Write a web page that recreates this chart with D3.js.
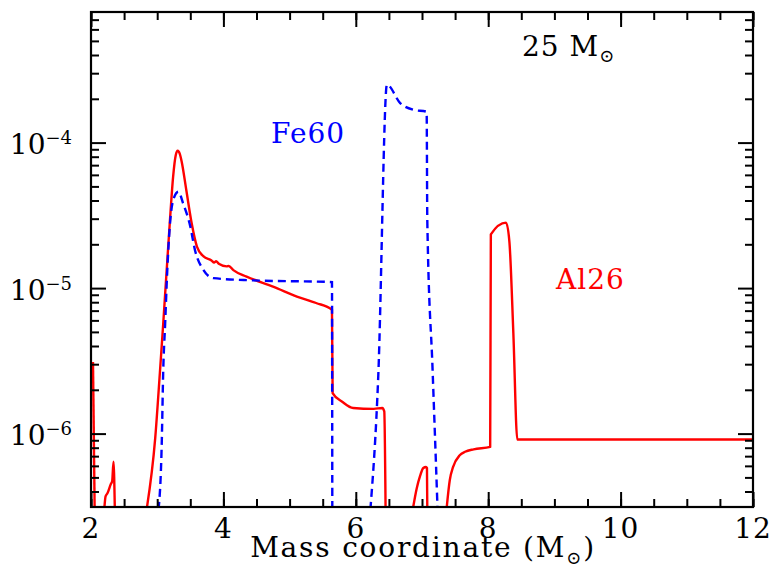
<!DOCTYPE html>
<html>
<head>
<meta charset="utf-8">
<script src="https://cdn.jsdelivr.net/npm/d3@7"></script>
<style>
  body { margin: 0; background: #fff; }
  text { font-family: "DejaVu Serif", serif; }
</style>
</head>
<body>
<svg id="chart" width="774" height="568"></svg>
<script>
// mass coordinate (Msun), abundance
var al26Pieces = [
  [[2.03, 3.1e-6], [2.055, 3e-7]],
  [[2.20, 3e-7], [2.22, 3.7e-7], [2.25, 3.9e-7], [2.30, 4.5e-7], [2.32, 4.7e-7], [2.34, 6.4e-7], [2.36, 3e-7]],
  [[2.84, 3e-7], [2.97, 9.3e-7], [3.04, 2.6e-6], [3.09, 5.6e-6], [3.14, 1.26e-5], [3.19, 2.8e-5],
   [3.24, 5.8e-5], [3.28, 8.2e-5], [3.31, 8.8e-5], [3.34, 8.4e-5], [3.37, 7.4e-5], [3.44, 4.7e-5],
   [3.52, 2.8e-5], [3.60, 1.93e-5], [3.70, 1.65e-5], [3.82, 1.55e-5], [3.86, 1.5e-5], [3.89, 1.53e-5],
   [3.93, 1.47e-5], [4.05, 1.41e-5], [4.08, 1.42e-5], [4.15, 1.33e-5], [4.35, 1.2e-5], [4.76, 1.02e-5],
   [5.11, 8.75e-6], [5.40, 7.9e-6], [5.64, 7.1e-6], [5.65, 1.9e-6], [5.80, 1.65e-6], [5.96, 1.5e-6],
   [6.27, 1.48e-6], [6.40, 1.5e-6], [6.43, 1.42e-6], [6.45, 3e-7]],
  [[6.86, 3e-7], [6.92, 4.2e-7], [6.97, 5.1e-7], [7.02, 5.8e-7], [7.06, 5.9e-7], [7.075, 5.8e-7], [7.08, 3e-7]],
  [[7.37, 3e-7], [7.42, 4.8e-7], [7.47, 5.9e-7], [7.57, 7.1e-7], [7.65, 7.5e-7], [7.78, 7.8e-7],
   [8.03, 8.1e-7], [8.04, 2.34e-5], [8.27, 2.82e-5], [8.32, 2.09e-5], [8.38, 4.9e-6], [8.44, 9.1e-7],
   [12, 9.1e-7]]
];

var fe60Pieces = [
  [[3.02, 3e-7], [3.07, 9.1e-7], [3.09, 2.6e-6], [3.12, 5.7e-6], [3.15, 1.26e-5], [3.19, 2.65e-5],
   [3.24, 4.0e-5], [3.32, 4.6e-5], [3.39, 3.84e-5], [3.50, 2.65e-5], [3.57, 1.83e-5], [3.70, 1.33e-5],
   [3.85, 1.17e-5], [4.45, 1.13e-5], [5.64, 1.1e-5], [5.645, 3e-7]],
  [[6.22, 3e-7], [6.34, 2.53e-6], [6.47, 2.5e-4], [6.67, 1.87e-4], [6.87, 1.68e-4], [7.07, 1.63e-4],
   [7.08, 2.94e-5], [7.16, 2.74e-6], [7.23, 3.5e-7], [7.235, 3e-7]]
];

var xMajor = [2, 4, 6, 8, 10, 12];
var yMajor = [1e-4, 1e-5, 1e-6];
var yMajorExp = ["\u22124", "\u22125", "\u22126"];

var svg = d3.select("#chart");
var pLeft = 91, pRight = 753, pTop = 12, pBottom = 507;

var x = d3.scaleLinear().domain([2, 12]).range([pLeft, pRight]);
var y = d3.scaleLog().domain([3.13e-7, 7.9e-4]).range([pBottom, pTop]);

var xMinor = d3.range(2, 12.01, 0.5);
var yMinor = [];
[1e-7, 1e-6, 1e-5, 1e-4].forEach(function (d) {
  for (var k = 2; k <= 9; k++) {
    var v = d * k;
    if (v >= y.domain()[0] && v <= y.domain()[1]) yMinor.push(v);
  }
});

svg.append("clipPath").attr("id", "plot")
  .append("rect")
  .attr("x", pLeft).attr("y", pTop)
  .attr("width", pRight - pLeft).attr("height", pBottom - pTop);

var line = d3.line()
  .curve(d3.curveMonotoneX)
  .x(function (d) { return x(d[0]); })
  .y(function (d) { return y(d[1]); });

var curves = svg.append("g").attr("clip-path", "url(#plot)");

curves.selectAll("path.al")
  .data(al26Pieces)
  .enter()
  .append("path")
  .attr("class", "al")
  .attr("d", line)
  .attr("fill", "none")
  .attr("stroke", "#ff0000")
  .attr("stroke-width", 2.4)
  .attr("stroke-linejoin", "round");

curves.selectAll("path.fe")
  .data(fe60Pieces)
  .enter()
  .append("path")
  .attr("class", "fe")
  .attr("d", line)
  .attr("fill", "none")
  .attr("stroke", "#0000ff")
  .attr("stroke-width", 2.4)
  .attr("stroke-dasharray", "8,5");

// ticks on all four sides, pointing inwards
function drawAxis(axis, tx, ty) {
  var g = svg.append("g")
    .attr("transform", "translate(" + tx + "," + ty + ")")
    .call(axis);
  g.select(".domain").remove();
  g.selectAll(".tick line").attr("stroke", "#000").attr("stroke-width", 2);
  g.selectAll(".tick text").remove();
  return g;
}

drawAxis(d3.axisBottom(x).tickValues(xMinor).tickSizeInner(-8).tickSizeOuter(0), 0, pBottom);
drawAxis(d3.axisBottom(x).tickValues(xMajor).tickSizeInner(-15).tickSizeOuter(0), 0, pBottom);
drawAxis(d3.axisTop(x).tickValues(xMinor).tickSizeInner(-8).tickSizeOuter(0), 0, pTop);
drawAxis(d3.axisTop(x).tickValues(xMajor).tickSizeInner(-15).tickSizeOuter(0), 0, pTop);
drawAxis(d3.axisLeft(y).tickValues(yMinor).tickSizeInner(-8).tickSizeOuter(0), pLeft, 0);
drawAxis(d3.axisLeft(y).tickValues(yMajor).tickSizeInner(-15).tickSizeOuter(0), pLeft, 0);
drawAxis(d3.axisRight(y).tickValues(yMinor).tickSizeInner(-8).tickSizeOuter(0), pRight, 0);
drawAxis(d3.axisRight(y).tickValues(yMajor).tickSizeInner(-15).tickSizeOuter(0), pRight, 0);

svg.append("rect")
  .attr("x", pLeft).attr("y", pTop)
  .attr("width", pRight - pLeft).attr("height", pBottom - pTop)
  .attr("fill", "none")
  .attr("stroke", "#000")
  .attr("stroke-width", 2.2);

// tick labels
svg.append("g").selectAll("text")
  .data(xMajor)
  .enter()
  .append("text")
  .attr("x", function (d) { return x(d); })
  .attr("y", 538)
  .attr("text-anchor", "middle")
  .attr("font-size", 28)
  .attr("letter-spacing", 1)
  .text(function (d) { return d; });

var yl = svg.append("g").selectAll("text")
  .data(yMajor)
  .enter()
  .append("text")
  .attr("x", 72)
  .attr("y", function (d) { return y(d) + 11.5; })
  .attr("text-anchor", "end")
  .attr("font-size", 28);
yl.append("tspan").text("10");
yl.append("tspan")
  .attr("dy", -10)
  .attr("font-size", 18)
  .text(function (d, i) { return yMajorExp[i]; });

var xt = svg.append("text")
  .attr("x", (pLeft + pRight) / 2 + 1)
  .attr("y", 557)
  .attr("text-anchor", "middle")
  .attr("font-size", 28)
  .attr("letter-spacing", 1.8)
  .text("Mass coordinate (M");
xt.append("tspan").attr("dy", 7).attr("font-size", 18).text("\u2299");
xt.append("tspan").attr("dy", -7).text(")");

// annotations
var lab = svg.append("text")
  .attr("x", 522)
  .attr("y", 56)
  .attr("font-size", 28)
  .attr("letter-spacing", 1)
  .text("25 M");
lab.append("tspan").attr("dy", 6).attr("font-size", 18).text("\u2299");

svg.append("text")
  .attr("x", 271)
  .attr("y", 143)
  .attr("font-size", 28)
  .attr("letter-spacing", 1)
  .attr("fill", "#0000ff")
  .text("Fe60");

svg.append("text")
  .attr("x", 556)
  .attr("y", 289)
  .attr("font-size", 28)
  .attr("letter-spacing", 1)
  .attr("fill", "#ff0000")
  .text("Al26");
</script>
</body>
</html>
